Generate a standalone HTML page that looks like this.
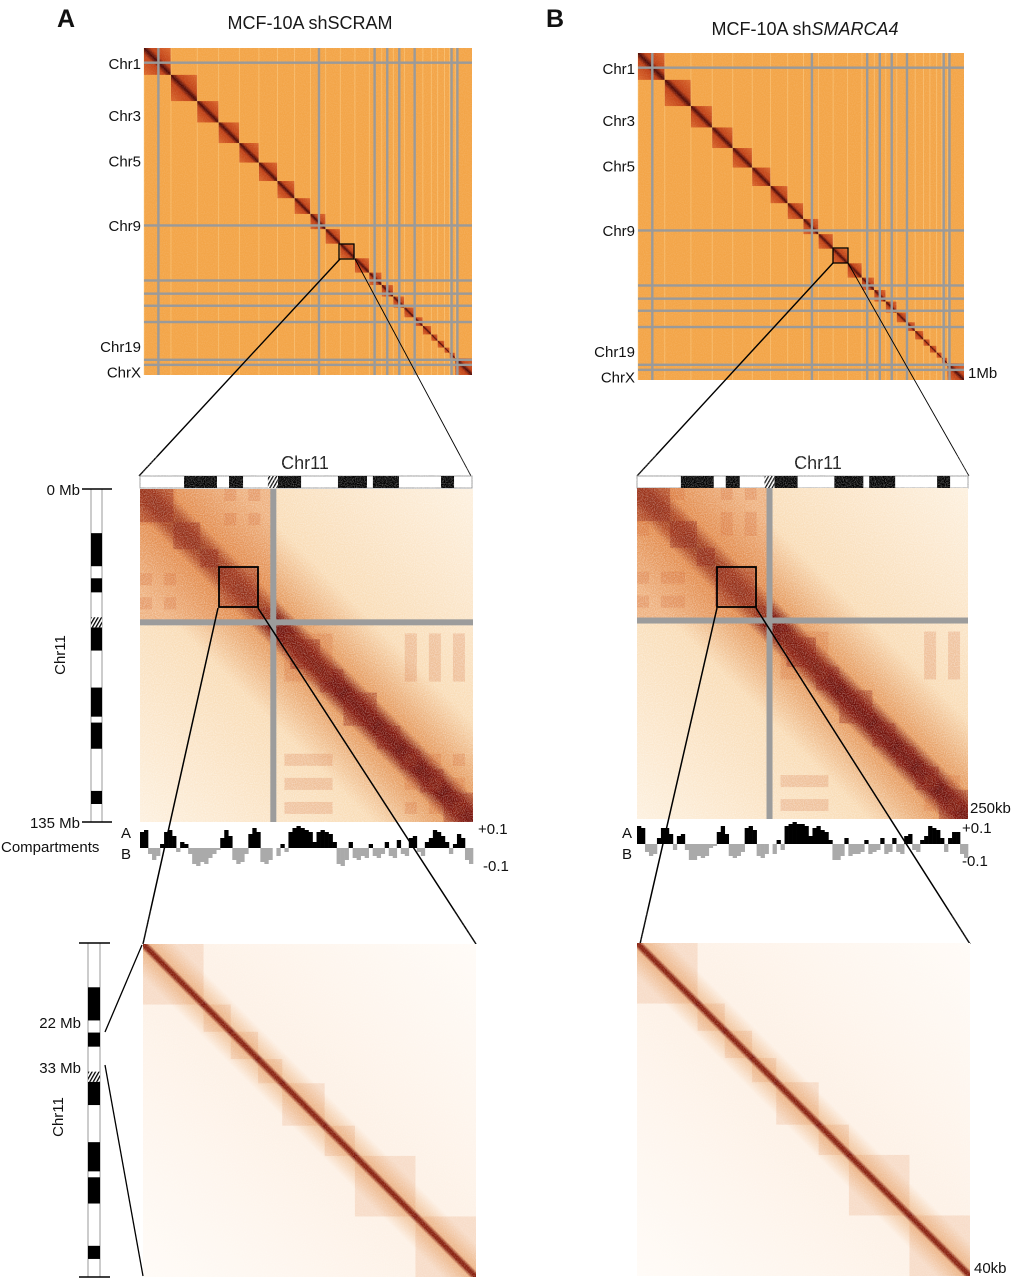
<!DOCTYPE html>
<html><head><meta charset="utf-8"><style>
html,body{margin:0;padding:0;background:#fff;}
svg{display:block;font-family:"Liberation Sans",sans-serif;}
</style></head><body>
<svg id="fig" xmlns="http://www.w3.org/2000/svg" width="1017" height="1280" viewBox="0 0 1017 1280">
<defs>
<linearGradient id="blk" x1="0" y1="1" x2="1" y2="0"><stop offset="0" stop-color="#dd6a2c"/><stop offset="0.38" stop-color="#c04218"/><stop offset="0.5" stop-color="#4a0806"/><stop offset="0.62" stop-color="#c04218"/><stop offset="1" stop-color="#dd6a2c"/></linearGradient>
<linearGradient id="mid" x1="0" y1="1" x2="1" y2="0"><stop offset="0" stop-color="#fdf0de"/><stop offset="0.35" stop-color="#f9dcb6"/><stop offset="0.46" stop-color="#e59a5e"/><stop offset="0.485" stop-color="#7a1208"/><stop offset="0.5" stop-color="#5e0a06"/><stop offset="0.515" stop-color="#7a1208"/><stop offset="0.54" stop-color="#e59a5e"/><stop offset="0.65" stop-color="#f9dcb6"/><stop offset="1" stop-color="#fdf0de"/></linearGradient>
<linearGradient id="bot" x1="0" y1="1" x2="1" y2="0"><stop offset="0" stop-color="#fffbf7"/><stop offset="0.45" stop-color="#fdf1e6"/><stop offset="0.49" stop-color="#f1c49c"/><stop offset="0.497" stop-color="#7a120a"/><stop offset="0.503" stop-color="#7a120a"/><stop offset="0.51" stop-color="#f1c49c"/><stop offset="0.55" stop-color="#fdf1e6"/><stop offset="1" stop-color="#fffbf7"/></linearGradient>
<pattern id="hatch" width="3" height="3" patternUnits="userSpaceOnUse" patternTransform="rotate(30)"><rect width="3" height="3" fill="#fff"/><rect width="1.3" height="3" fill="#000"/></pattern>
<filter id="noise"><feTurbulence type="fractalNoise" baseFrequency="0.9" numOctaves="1" seed="3"/><feColorMatrix values="0 0 0 0 1  0 0 0 0 1  0 0 0 0 1  0 0 0 1.6 -0.6"/></filter>
</defs>
<g id="root"></g>
</svg>
<script>
// ---- data ----
const chrSizes=[249,243,198,191,181,171,159,146,141,135,135,133,115,107,102,90,81,78,59,63,48,51,155];
const gridV=[133,1617,2131,2248,2359,2501,2842,2896];
const gridH=[136,1645,2155,2277,2389,2540,2890,2937];
const chrLabels=['Chr1','Chr3','Chr5','Chr9','Chr19','ChrX'];
const chrLabelPos=[150,630,1050,1650,2770,3010];
const chr11Bands=[[17.9,31.3],[36.2,41.9],[56.1,65.5],[80.5,92.3],[94.7,105.3],[122.4,127.7]];
const chr11Cen=[52,56.1];
const chr11Len=135;
const chr11Tads=[0,13.5,24.4,31.8,48,52.8,60.9,73,82.5,96,105.5,113.6,123.1,135];
const zoomTads=[22,24.0,24.9,25.8,26.6,28.0,29.0,31.0,33];
const compA=[.8,.9,-.3,-.6,-.4,.2,.8,.9,.6,-.2,.3,.2,-.3,-.8,-.9,-.7,-.8,-.5,-.3,-.1,.5,.9,.6,-.6,-.8,-.7,-.3,.7,1,.8,-.7,-.8,-.6,0,-.4,.2,-.2,.8,1,1.1,1,.9,.8,.3,.8,.9,.8,.7,.3,-.8,-.9,-.6,.3,-.5,-.6,-.4,-.5,.2,-.4,-.5,-.3,.3,-.4,-.5,.4,-.3,-.4,.5,.6,-.2,-.4,.3,.5,.9,.8,.6,.3,-.3,.2,.7,.5,-.6,-.8];
const compB=[.9,.8,-.4,-.6,-.5,.3,.8,.8,.5,-.3,.4,.5,-.3,-.8,-.8,-.6,-.7,-.6,-.2,-.1,.6,.9,.5,-.6,-.7,-.6,-.4,.8,.9,.7,-.6,-.7,-.5,0,-.5,.2,-.3,.9,1,1.1,1,1,.9,.4,.8,.9,.7,.6,.2,-.8,-.8,-.6,.3,-.6,-.5,-.5,-.4,.2,-.5,-.4,-.3,.3,-.5,-.4,.3,-.4,-.5,.4,.5,-.3,-.4,.2,.4,.9,.8,.7,.3,-.4,.3,.6,.6,-.5,-.7];

const NS='http://www.w3.org/2000/svg';
const root=document.getElementById('root');
function el(tag,attrs,parent,txt){const e=document.createElementNS(NS,tag);for(const k in attrs)e.setAttribute(k,attrs[k]);if(txt!==undefined)e.textContent=txt;(parent||root).appendChild(e);return e;}

function topMap(x0,y0,w,h,name,box){
  const g=el('g',{});
  
  
  const total=chrSizes.reduce((a,b)=>a+b,0);
  const sx=v=>x0+v/total*w, sy=v=>y0+v/total*h;
  el('rect',{x:x0,y:y0,width:w,height:h,fill:'#f3a548'},g);
  let acc=0;
  chrSizes.forEach((s,i)=>{
    const ln=el('line',{x1:sx(acc),y1:y0,x2:sx(acc),y2:y0+h,stroke:'#fbd08a','stroke-width':0.8,opacity:0.6},g);
    
    
    const r=el('rect',{x:sx(acc),y:sy(acc),width:s/total*w,height:s/total*h,fill:'url(#blk)'},g);
    
    
    acc+=s;
  });
  el('rect',{x:x0,y:y0,width:w,height:h,filter:'url(#noise)',opacity:0.15},g);
  gridV.forEach(v=>{const l=el('rect',{x:sx(v)-1.2,y:y0,width:2.4,height:h,fill:'#9a9a9a'},g);
    
    });
  gridH.forEach(v=>{const l=el('rect',{x:x0,y:sy(v)-1.2,width:w,height:2.4,fill:'#9a9a9a'},g);
    
    });
  chrLabels.forEach((t,i)=>{const tx=el('text',{x:x0-3,y:sy(chrLabelPos[i])+5,'text-anchor':'end','font-size':15,fill:'#111'},g,t);
    
    });
  const b=el('rect',{x:box[0],y:box[1],width:box[2],height:box[2],fill:'none',stroke:'#000','stroke-width':1.3},g);
  
  
}

function hIdeo(x0,y0,w,h,name){
  const g=el('g',{});
  
  
  el('rect',{x:x0,y:y0,width:w,height:h,fill:'#fff',stroke:'#999','stroke-width':1},g);
  chr11Bands.forEach(b=>{const r=el('rect',{x:x0+b[0]/chr11Len*w,y:y0,width:(b[1]-b[0])/chr11Len*w,height:h,fill:'#000'},g);
    
    });
  const c=el('rect',{x:x0+chr11Cen[0]/chr11Len*w,y:y0,width:(chr11Cen[1]-chr11Cen[0])/chr11Len*w,height:h,fill:'url(#hatch)'},g);
  
  
}
function vIdeo(x0,y0,w,h,name){
  const g=el('g',{});
  
  
  el('rect',{x:x0,y:y0,width:w,height:h,fill:'#fff',stroke:'#999','stroke-width':1},g);
  chr11Bands.forEach(b=>{const r=el('rect',{x:x0,y:y0+b[0]/chr11Len*h,width:w,height:(b[1]-b[0])/chr11Len*h,fill:'#000'},g);
    
    });
  const c=el('rect',{x:x0,y:y0+chr11Cen[0]/chr11Len*h,width:w,height:(chr11Cen[1]-chr11Cen[0])/chr11Len*h,fill:'url(#hatch)'},g);
  
  
  el('line',{x1:x0-9,y1:y0,x2:x0+w+10,y2:y0,stroke:'#000','stroke-width':1.6},g);
  el('line',{x1:x0-9,y1:y0+h,x2:x0+w+10,y2:y0+h,stroke:'#000','stroke-width':1.6},g);
}

function midMap(x0,y0,w,name,box,comp){
  const g=el('g',{});
  
  
  const s=v=>v/chr11Len*w;
  el('rect',{x:x0,y:y0,width:w,height:w,fill:'url(#mid)'},g);
  const cen=s((chr11Cen[0]+chr11Cen[1])/2);
  const q=el('rect',{x:x0,y:y0,width:cen,height:cen,fill:'#e07c3c',opacity:0.45},g);
  
  
  const bw=w/comp.length;
  const grp=3;
  const cenBin=Math.floor(cen/bw);
  for(let i=0;i<comp.length;i+=grp){
    for(let j=0;j<comp.length;j+=grp){
      if((i<cenBin)!==(j<cenBin)) continue;
      let a=0,b=0;
      for(let k=0;k<grp;k++){a+=comp[i+k]||0;b+=comp[j+k]||0;}
      if(a>0.6&&b>0.6){
        const r=el('rect',{x:x0+i*bw,y:y0+j*bw,width:bw*grp,height:bw*grp,fill:'#c8501e',opacity:0.2},g);
        
        
      }
    }
  }
  for(let i=0;i<chr11Tads.length-1;i++){
    const a=chr11Tads[i],b=chr11Tads[i+1];
    const r=el('rect',{x:x0+s(a),y:y0+s(a),width:s(b-a),height:s(b-a),fill:'#8a1a0c',opacity:0.4},g);
    
    
  }
  el('rect',{x:x0,y:y0,width:w,height:w,filter:'url(#noise)',opacity:0.55},g);
  const cv=el('rect',{x:x0+cen-3,y:y0,width:6,height:w,fill:'#9c9c9c'},g);
  
  
  const ch=el('rect',{x:x0,y:y0+cen-3,width:w,height:6,fill:'#9c9c9c'},g);
  
  
  const b=el('rect',{x:box[0],y:box[1],width:box[2],height:box[2]+1,fill:'none',stroke:'#000','stroke-width':1.8},g);
  
  
}

function botMap(x0,y0,w,name){
  const g=el('g',{});
  
  
  const lo=zoomTads[0],span=zoomTads[zoomTads.length-1]-lo;
  const s=v=>(v-lo)/span*w;
  el('rect',{x:x0,y:y0,width:w,height:w,fill:'url(#bot)'},g);
  for(let i=0;i<zoomTads.length-1;i++){
    const a=zoomTads[i],b=zoomTads[i+1];
    const r=el('rect',{x:x0+s(a),y:y0+s(a),width:s(b)-s(a),height:s(b)-s(a),fill:'#d9712e',opacity:0.16},g);
    
    
  }
  el('rect',{x:x0,y:y0,width:w,height:w,filter:'url(#noise)',opacity:0.3},g);
}

function track(x0,base,w,vals,name){
  const g=el('g',{});
  
  
  const bw=w/vals.length, k=20;
  vals.forEach((v,i)=>{
    const hgt=Math.abs(v)*k;
    const r=el('rect',{x:x0+i*bw,y:v>=0?base-hgt:base,width:bw+0.3,height:hgt,fill:v>=0?'#000':'#aaa'},g);
    
    
  });
}

function txt(x,y,t,size,name,anchor,extra){
  const e=el('text',Object.assign({x:x,y:y,'font-size':size,'text-anchor':anchor||'start',fill:'#111'},extra||{}),root,t);
  
  
  return e;
}
function line(x1,y1,x2,y2,w,name){
  const e=el('line',{x1:x1,y1:y1,x2:x2,y2:y2,stroke:'#000','stroke-width':w});
  
  
}

// ---- Panel A ----
txt(57,27,'A',25,'panel-a-label','start',{'font-weight':'bold'});
txt(310,29,'MCF-10A shSCRAM',18,'panel-a-title','middle');
topMap(144,48,328,327,'genome-heatmap-a',[339,244,15]);
line(340,259,139,476,1.4,'zoom-line-left-a');
line(355,259,471,476,0.9,'zoom-line-right-a');
txt(305,469,'Chr11',18,'chr11-title-a','middle');
hIdeo(140,476,332,12,'chr11-ideogram-horizontal-a');
midMap(140,489,333,'chr11-heatmap-a',[219,567,39],compA);
vIdeo(91,489,11,333,'chr11-ideogram-vertical-a');
txt(80,495,'0 Mb',15,'label-0mb','end');
txt(80,828,'135 Mb',15,'label-135mb','end');
txt(0,0,'Chr11',15,'chr11-axis-label-a','middle',{transform:'translate(65,655) rotate(-90)'});
track(140,848,333,compA,'compartment-track-a');
txt(131,838,'A',15,'compartment-a-label','end');
txt(131,859,'B',15,'compartment-b-label','end');
txt(1,852,'Compartments',15,'compartments-label');
txt(478,834,'+0.1',15,'track-max-label-a');
txt(483,871,'-0.1',15,'track-min-label-a');
line(218,608,143,944,1.5,'zoom-line-left-a2');
line(258,608,476,944,1.5,'zoom-line-right-a2');
botMap(143,944,333,'zoom-heatmap-a');
vIdeo(88,943,12,334,'zoom-ideogram-a');
txt(81,1028,'22 Mb',15,'label-22mb','end');
txt(81,1073,'33 Mb',15,'label-33mb','end');
txt(0,0,'Chr11',15,'chr11-axis-label-a2','middle',{transform:'translate(63,1117) rotate(-90)'});
line(105,1032,142,945,1.3,'zoom-link-top-a');
line(105,1065,143,1276,1.3,'zoom-link-bottom-a');

// ---- Panel B ----
txt(546,27,'B',25,'panel-b-label','start',{'font-weight':'bold'});
const tb=txt(805,35,'MCF-10A sh',18,'panel-b-title','middle');
const ts=el('tspan',{'font-style':'italic'},tb,'SMARCA4');


topMap(638,53,326,327,'genome-heatmap-b',[833,248,15]);
txt(968,378,'1Mb',15,'resolution-1mb');
line(833,263,637,476,1.4,'zoom-line-left-b');
line(848,263,969,476,0.9,'zoom-line-right-b');
txt(818,469,'Chr11',18,'chr11-title-b','middle');
hIdeo(637,476,331,12,'chr11-ideogram-horizontal-b');
midMap(637,488,331,'chr11-heatmap-b',[717,567,39],compB);
txt(970,813,'250kb',15,'resolution-250kb');
track(637,844,331,compB,'compartment-track-b');
txt(632,838,'A',15,'compartment-a-label-b','end');
txt(632,859,'B',15,'compartment-b-label-b','end');
txt(962,833,'+0.1',15,'track-max-label-b');
txt(962,866,'-0.1',15,'track-min-label-b');
line(717,608,640,944,1.5,'zoom-line-left-b2');
line(756,608,970,944,1.5,'zoom-line-right-b2');
botMap(637,943,333,'zoom-heatmap-b');
txt(974,1273,'40kb',15,'resolution-40kb');
</script>
</body></html>
